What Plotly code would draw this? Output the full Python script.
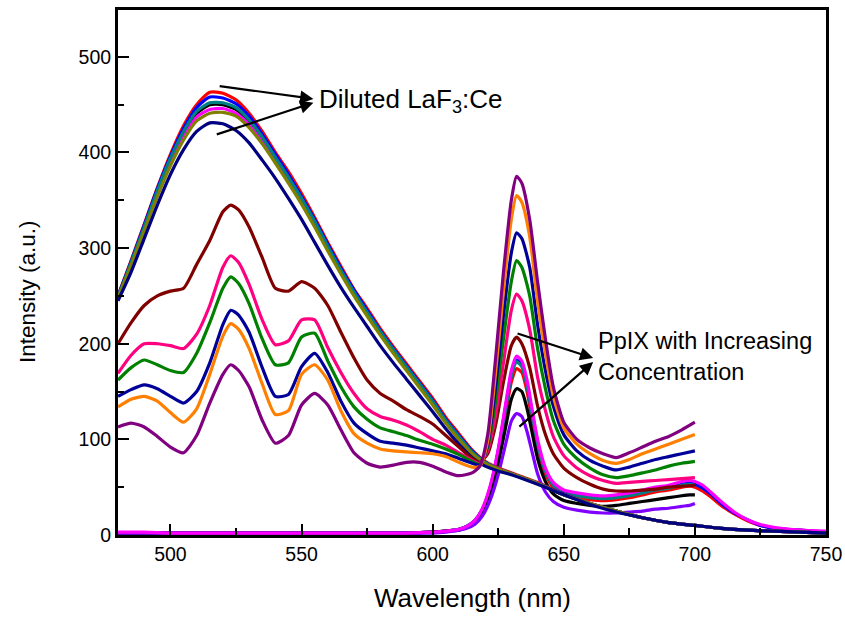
import plotly.graph_objects as go

# ---------------- Data ----------------
# Group A: diluted LaF3:Ce emission (480-750 nm)
wl_a = [480, 485, 490, 495, 500, 505, 510, 515, 520, 525, 530, 535, 540, 545, 550, 555,
        560, 565, 570, 575, 580, 585, 590, 595, 600, 605, 610, 615, 620, 625, 630, 640,
        650, 660, 670, 680, 690, 700, 710, 720, 730, 740, 750]
laf_red = [250, 287, 325, 363, 398, 428, 450, 463, 462, 455, 441, 422, 400, 380, 357, 332,
           306, 281, 257, 237, 216, 197, 179, 161, 143, 123, 106, 89, 77, 70, 65, 55,
           43, 33, 25, 18, 13, 10, 7, 5, 4, 3, 2]
laf_blue = [250, 286, 324, 362, 396, 425, 447, 458, 457, 451, 438, 419, 398, 377, 354, 330,
            304, 279, 256, 235, 214, 195, 177, 159, 141, 121, 104, 88, 76, 69, 64, 54,
            43, 33, 25, 18, 13, 10, 7, 5, 4, 3, 2]
laf_teal = [249, 285, 322, 360, 394, 422, 443, 452, 452, 447, 434, 416, 395, 374, 352, 328,
            302, 277, 254, 233, 213, 194, 176, 158, 140, 120, 103, 87, 76, 69, 64, 54,
            42, 33, 25, 18, 13, 10, 7, 5, 4, 3, 2]
laf_black = [249, 284, 321, 358, 392, 420, 441, 450, 450, 445, 432, 414, 393, 372, 350, 326,
             300, 276, 253, 232, 212, 193, 175, 157, 139, 119, 102, 87, 75, 69, 64, 54,
             42, 33, 25, 18, 13, 10, 7, 5, 4, 3, 2]
laf_magenta = [248, 283, 320, 356, 389, 416, 437, 445, 446, 441, 429, 411, 391, 370, 348, 324,
               299, 275, 252, 231, 211, 192, 174, 156, 138, 118, 101, 86, 75, 69, 64, 54,
               42, 33, 25, 18, 13, 10, 7, 5, 4, 3, 2]
laf_olive = [248, 282, 318, 354, 386, 413, 433, 441, 442, 438, 426, 409, 389, 368, 346, 322,
             297, 273, 250, 229, 209, 190, 172, 154, 136, 117, 100, 85, 75, 69, 64, 54,
             42, 33, 25, 18, 13, 10, 7, 5, 4, 3, 2]
laf_navy = [245, 275, 310, 345, 377, 403, 422, 431, 430, 423, 410, 392, 373, 352, 330, 306,
            282, 259, 238, 218, 198, 180, 163, 146, 129, 111, 95, 81, 72, 67, 63, 53,
            42, 32, 24, 18, 13, 10, 7, 5, 4, 3, 2]

# Group B: LaF3:Ce + PpIX with increasing concentration (480-700 nm)
wl_b = [480, 485, 490, 495, 500, 505, 510, 515, 520, 523, 526, 530, 535, 540, 545, 550,
        555, 560, 565, 570, 575, 580, 585, 590, 595, 600, 605, 610, 615, 618, 621, 624,
        627, 630, 632, 634, 637, 640, 643, 646, 650, 655, 660, 665, 670, 675, 680, 685,
        690, 695, 700]
mix_maroon = [200, 222, 240, 250, 255, 258, 283, 308, 338, 345, 340, 322, 290, 258, 255, 265,
              258, 240, 212, 185, 162, 148, 140, 131, 124, 116, 104, 92, 80, 76, 85, 115,
              160, 198, 207, 200, 175, 135, 105, 85, 70, 60, 53, 48, 46, 46, 47, 48,
              50, 51, 52]
mix_pink = [169, 188, 200, 200, 198, 195, 210, 240, 280, 292, 285, 262, 225, 199, 203, 225,
            225, 196, 170, 148, 132, 124, 120, 115, 108, 100, 94, 86, 78, 75, 88, 125,
            180, 235, 252, 245, 215, 165, 130, 103, 83, 70, 62, 57, 54, 55, 56, 57,
            58, 59, 60]
mix_green = [162, 175, 183, 178, 172, 170, 190, 222, 258, 270, 263, 242, 205, 178, 180, 207,
             211, 182, 155, 134, 121, 112, 108, 104, 99, 95, 90, 84, 77, 74, 92, 140,
             205, 265, 287, 280, 250, 195, 153, 120, 95, 80, 70, 63, 60, 62, 65, 68,
             72, 75, 77]
mix_navy = [145, 152, 157, 153, 145, 138, 150, 180, 220, 235, 230, 212, 175, 145, 147, 176,
            190, 170, 140, 117, 106, 98, 96, 94, 91, 88, 85, 80, 75, 73, 95, 155,
            230, 295, 316, 310, 280, 220, 172, 135, 105, 88, 78, 72, 68, 71, 75, 79,
            82, 85, 88]
mix_orange = [134, 142, 145, 140, 128, 118, 132, 168, 208, 221, 215, 195, 158, 126, 130, 168,
              178, 162, 130, 106, 96, 90, 88, 87, 86, 85, 82, 76, 71, 72, 98, 170,
              255, 330, 355, 348, 312, 245, 190, 145, 112, 95, 85, 78, 75, 79, 85, 90,
              95, 100, 105]
mix_purple = [113, 117, 113, 103, 92, 86, 104, 138, 168, 178, 172, 155, 120, 96, 104, 136,
              148, 136, 110, 86, 75, 71, 73, 76, 76, 72, 66, 62, 65, 72, 105, 185,
              275, 350, 375, 368, 330, 265, 205, 155, 118, 100, 91, 85, 81, 86, 92, 98,
              103, 110, 118]

# Group C: PpIX alone
wl_c = [480, 490, 500, 510, 520, 530, 540, 550, 560, 570, 580, 590, 600, 605, 610, 613,
        616, 619, 622, 625, 628, 630, 632, 634, 636, 638, 640, 643, 646, 650, 655, 660,
        665, 670, 675, 680, 685, 690, 695, 698, 700, 703, 706, 710, 715, 720, 725, 730,
        740, 750]
ppix_magenta = [3, 3, 2, 2, 2, 2, 2, 2, 2, 2, 2, 2, 3, 4, 6, 9,
                15, 28, 52, 90, 140, 172, 187, 182, 162, 130, 100, 70, 55, 47, 44, 42,
                41, 42, 44, 47, 50, 52, 56, 57, 56, 52, 45, 35, 24, 16, 11, 8,
                5, 4]
ppix_red = [2, 2, 2, 2, 2, 2, 2, 2, 2, 2, 2, 2, 3, 4, 6, 9,
            14, 26, 48, 84, 130, 160, 174, 170, 150, 120, 92, 64, 50, 42, 39, 37,
            36, 37, 39, 42, 45, 47, 50, 51, 50, 46, 40, 31, 22, 15, 10, 7,
            5, 3]
ppix_blue = [2, 2, 2, 2, 2, 2, 2, 2, 2, 2, 2, 2, 3, 4, 6, 9,
             15, 27, 50, 88, 137, 168, 183, 178, 158, 127, 97, 68, 53, 45, 42, 40,
             39, 40, 42, 45, 48, 50, 53, 54, 53, 49, 43, 33, 23, 16, 10, 7,
             5, 3]
ppix_teal = [2, 2, 2, 2, 2, 2, 2, 2, 2, 2, 2, 2, 3, 4, 6, 9,
             15, 27, 50, 87, 135, 166, 181, 176, 156, 125, 95, 67, 52, 44, 41, 39,
             38, 39, 41, 44, 47, 49, 52, 53, 52]
ppix_black = [2, 2, 2, 2, 2, 2, 2, 2, 2, 2, 2, 2, 3, 4, 5, 8,
              13, 23, 43, 75, 115, 142, 153, 150, 132, 106, 80, 56, 43, 36, 33, 31,
              30, 31, 33, 35, 37, 39, 41, 42, 42]
ppix_violet = [2, 2, 2, 2, 2, 2, 2, 2, 2, 2, 2, 2, 2, 3, 5, 7,
               11, 20, 37, 63, 97, 119, 127, 124, 108, 86, 64, 45, 35, 29, 26, 24,
               23, 23, 24, 25, 27, 28, 30, 31, 33]

x_ticks = [500, 550, 600, 650, 700, 750]
y_ticks = [0, 100, 200, 300, 400, 500]

# ---------------- Figure ----------------
fig = go.Figure()

def add(x, y, color):
    fig.add_trace(go.Scatter(x=x[:len(y)], y=y, mode="lines",
                             line=dict(color=color, width=3.2, shape="spline", smoothing=0.6),
                             showlegend=False, hoverinfo="skip"))

# PpIX alone
add(wl_c, ppix_red, "#FF0000")
add(wl_c, ppix_blue, "#0000FF")
add(wl_c, ppix_teal, "#008080")
add(wl_c, ppix_black, "#000000")
add(wl_c, ppix_violet, "#8000FF")
add(wl_c, ppix_magenta, "#FF00FF")

# Diluted LaF3:Ce
add(wl_a, laf_red, "#FF0000")
add(wl_a, laf_blue, "#0000FF")
add(wl_a, laf_black, "#000000")
add(wl_a, laf_magenta, "#FF00FF")
add(wl_a, laf_teal, "#008080")
add(wl_a, laf_olive, "#808000")
add(wl_a, laf_navy, "#000080")

# Mixtures
add(wl_b, mix_maroon, "#800000")
add(wl_b, mix_pink, "#FF0080")
add(wl_b, mix_green, "#008000")
add(wl_b, mix_navy, "#000099")
add(wl_b, mix_orange, "#FF8000")
add(wl_b, mix_purple, "#800080")

font_family = "Liberation Sans, Arial, sans-serif"

axis_common = dict(showgrid=False, zeroline=False, showline=True, linecolor="black",
                   linewidth=3, mirror=True, ticks="inside", tickwidth=2,
                   tickcolor="black", ticklen=11, automargin=False,
                   tickfont=dict(family=font_family, size=19.5, color="black"))

fig.update_xaxes(range=[480, 750], tickvals=x_ticks,
                 minor=dict(ticks="inside", ticklen=7, tickwidth=2, dtick=25, tick0=475,
                            tickcolor="black"),
                 **axis_common)
fig.update_yaxes(range=[0, 549], tickvals=y_ticks,
                 minor=dict(ticks="inside", ticklen=6, tickwidth=2, dtick=50, tick0=0,
                            tickcolor="black"),
                 **axis_common)

arrow_style = dict(showarrow=True, arrowhead=2, arrowsize=1.2, arrowwidth=2.2,
                   arrowcolor="black", axref="x", ayref="y", text="")
annotations = [
    dict(x=554.5, y=456, ax=518.2, ay=469.7, **arrow_style),
    dict(x=554.5, y=452, ax=517.1, ay=418.4, **arrow_style),
    dict(x=661.2, y=185, ax=631.8, ay=211.3, **arrow_style),
    dict(x=661.2, y=181, ax=632.5, ay=111.9, **arrow_style),
    dict(x=555.7, y=454, text="Diluted LaF<sub>3</sub>:Ce", showarrow=False,
         xanchor="left", yanchor="middle",
         font=dict(family=font_family, size=26, color="black")),
    dict(x=662.3, y=187, text="PpIX with Increasing<br>Concentration", showarrow=False,
         xanchor="left", yanchor="middle", align="left",
         font=dict(family=font_family, size=23.5, color="black")),
    dict(x=0.5, y=-0.12, xref="paper", yref="paper", text="Wavelength (nm)",
         showarrow=False, xanchor="center", yanchor="middle",
         font=dict(family=font_family, size=26, color="black")),
    dict(x=-0.127, y=0.463, xref="paper", yref="paper", text="Intensity (a.u.)",
         showarrow=False, xanchor="center", yanchor="middle", textangle=-90,
         font=dict(family=font_family, size=22.5, color="black")),
]
fig.update_layout(annotations=annotations)

fig.update_layout(width=845, height=618, plot_bgcolor="white", paper_bgcolor="white",
                  margin=dict(l=118, r=19, t=10, b=83, autoexpand=False),
                  font=dict(family=font_family, color="black"))

fig.write_html("out.html", config={"displayModeBar": False},
               post_script="document.body.style.margin='0px';document.body.style.padding='0px';")
